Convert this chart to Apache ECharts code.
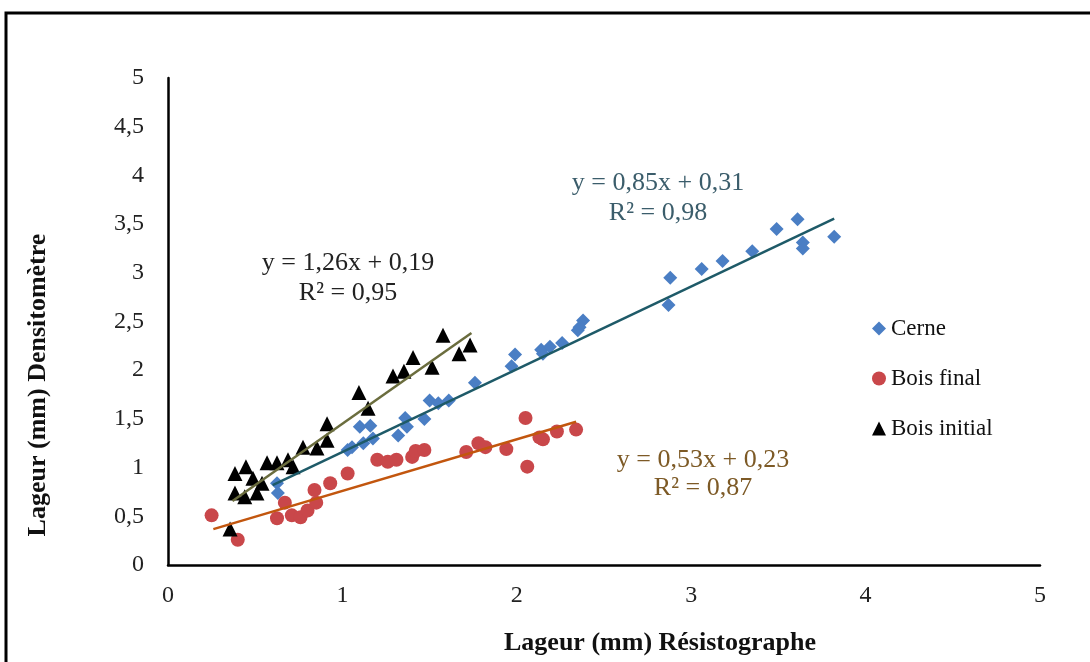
<!DOCTYPE html>
<html>
<head>
<meta charset="utf-8">
<script src="https://cdn.jsdelivr.net/npm/echarts@6/dist/echarts.min.js"></script>
<style>
  html, body { margin: 0; padding: 0; background: #fff; }
  #main { width: 1090px; height: 662px; }
</style>
</head>
<body>
<div id="main"></div>
<script>
// points [x, y]
var cerne = [
  [0.625, 0.84], [0.63, 0.74], [1.03, 1.18], [1.055, 1.21], [1.12, 1.25], [1.175, 1.30],
  [1.10, 1.42], [1.16, 1.43], [1.32, 1.33], [1.37, 1.42], [1.36, 1.51], [1.47, 1.50],
  [1.50, 1.69], [1.55, 1.66], [1.61, 1.69], [1.76, 1.87], [1.99, 2.16], [1.97, 2.04],
  [2.14, 2.21], [2.19, 2.24], [2.15, 2.17], [2.26, 2.28], [2.35, 2.41], [2.38, 2.51],
  [2.36, 2.44], [2.88, 2.95], [2.87, 2.67], [3.06, 3.04], [3.18, 3.12], [3.35, 3.22],
  [3.49, 3.45], [3.61, 3.55], [3.64, 3.31], [3.64, 3.25], [3.82, 3.37]
];
var boisFinal = [
  [0.25, 0.51], [0.40, 0.26], [0.625, 0.48], [0.67, 0.64], [0.71, 0.51], [0.76, 0.49],
  [0.80, 0.56], [0.85, 0.64], [0.84, 0.77], [0.93, 0.84], [1.03, 0.94], [1.20, 1.08],
  [1.26, 1.06], [1.31, 1.08], [1.40, 1.11], [1.42, 1.17], [1.47, 1.18], [1.71, 1.16],
  [1.78, 1.25], [1.82, 1.21], [1.94, 1.19], [2.05, 1.51], [2.06, 1.01], [2.13, 1.31],
  [2.15, 1.29], [2.23, 1.37], [2.34, 1.39]
];
var boisInitial = [
  [1.577, 2.36], [1.732, 2.26], [1.669, 2.17], [1.405, 2.13], [1.353, 1.99], [1.29, 1.94],
  [1.514, 2.03], [1.095, 1.77], [1.147, 1.61], [0.912, 1.45], [0.912, 1.28], [0.854, 1.20],
  [0.774, 1.21], [0.688, 1.08], [0.717, 1.01], [0.625, 1.05], [0.568, 1.05], [0.447, 1.01],
  [0.384, 0.94], [0.487, 0.89], [0.539, 0.84], [0.384, 0.74], [0.44, 0.70], [0.51, 0.74],
  [0.356, 0.37]
];

// trend lines: slope, intercept, x range of the drawn segment
var trendCerne = { a: 0.85, b: 0.31, x0: 0.60, x1: 3.82 };
var trendFinal = { a: 0.53, b: 0.23, x0: 0.26, x1: 2.34 };
var trendInitial = { a: 1.26, b: 0.19, x0: 0.37, x1: 1.74 };

var seriesNames = ['Cerne', 'Bois final', 'Bois initial'];

function seg(t) {
  return [[t.x0, t.a * t.x0 + t.b], [t.x1, t.a * t.x1 + t.b]];
}

var font = '"Liberation Serif", "Times New Roman", serif';
var chart = echarts.init(document.getElementById('main'));

chart.setOption({
  animation: false,
  textStyle: { fontFamily: font },
  grid: { left: 168, right: 50, top: 78, bottom: 97 },
  legend: {
    orient: 'vertical',
    left: 867,
    top: 312,
    itemGap: 27,
    itemWidth: 14,
    itemHeight: 14,
    textStyle: { fontFamily: font, fontSize: 23, color: '#111' },
    data: [
      { name: 'Cerne', icon: 'diamond' },
      { name: 'Bois final', icon: 'circle' },
      { name: 'Bois initial', icon: 'triangle' }
    ]
  },
  xAxis: {
    type: 'value',
    min: 0, max: 5, interval: 1,
    splitLine: { show: false },
    axisTick: { show: false },
    axisLine: { lineStyle: { color: '#000', width: 2.5 } },
    axisLabel: { fontFamily: font, fontSize: 24, color: '#222', margin: 19 }
  },
  yAxis: {
    type: 'value',
    min: 0, max: 5, interval: 0.5,
    splitLine: { show: false },
    axisTick: { show: false },
    axisLine: { show: true, lineStyle: { color: '#000', width: 2.5 } },
    axisLabel: {
      fontFamily: font, fontSize: 24, color: '#222', margin: 24,
      formatter: function (v) { return String(v).replace('.', ','); }
    }
  },
  series: [
    {
      name: seriesNames[0], type: 'scatter', symbol: 'diamond', symbolSize: 14,
      itemStyle: { color: '#4a7ec4', opacity: 1 }, data: cerne
    },
    {
      name: seriesNames[1], type: 'scatter', symbol: 'circle', symbolSize: 14,
      itemStyle: { color: '#c9474a', opacity: 1 }, data: boisFinal
    },
    {
      name: seriesNames[2], type: 'scatter', symbol: 'triangle', symbolSize: 15,
      itemStyle: { color: '#000', opacity: 1 }, data: boisInitial
    },
    {
      type: 'line', data: seg(trendCerne), symbol: 'none', silent: true, z: 5,
      lineStyle: { color: '#1e5a68', width: 2.5 }
    },
    {
      type: 'line', data: seg(trendFinal), symbol: 'none', silent: true, z: 5,
      lineStyle: { color: '#c2560e', width: 2.5 }
    },
    {
      type: 'line', data: seg(trendInitial), symbol: 'none', silent: true, z: 5,
      lineStyle: { color: '#6b6d3e', width: 2.5 }
    }
  ],
  graphic: [
    {
      type: 'rect', silent: true, z: 100,
      shape: { x: 6, y: 13, width: 1100, height: 700 },
      style: { fill: 'none', stroke: '#000', lineWidth: 3 }
    },
    {
      type: 'text', silent: true,
      style: {
        text: 'y = 1,26x + 0,19\nR² = 0,95', x: 348, y: 248, align: 'center',
        font: '26px ' + font, fill: '#222', lineHeight: 30
      }
    },
    {
      type: 'text', silent: true,
      style: {
        text: 'y = 0,85x + 0,31\nR² = 0,98', x: 658, y: 168, align: 'center',
        font: '26px ' + font, fill: '#3b5d6b', lineHeight: 30
      }
    },
    {
      type: 'text', silent: true,
      style: {
        text: 'y = 0,53x + 0,23\nR² = 0,87', x: 703, y: 446, align: 'center',
        font: '26px ' + font, fill: '#7d5a26', lineHeight: 28
      }
    },
    {
      type: 'text', silent: true,
      style: {
        text: 'Lageur (mm) Résistographe', x: 660, y: 643, align: 'center', verticalAlign: 'middle',
        font: 'bold 26px ' + font, fill: '#111'
      }
    },
    {
      type: 'text', silent: true, x: 38, y: 385, rotation: Math.PI / 2,
      style: {
        text: 'Lageur (mm) Densitomètre', x: 0, y: 0, align: 'center', verticalAlign: 'middle',
        font: 'bold 26px ' + font, fill: '#111'
      }
    }
  ]
});
</script>
</body>
</html>
